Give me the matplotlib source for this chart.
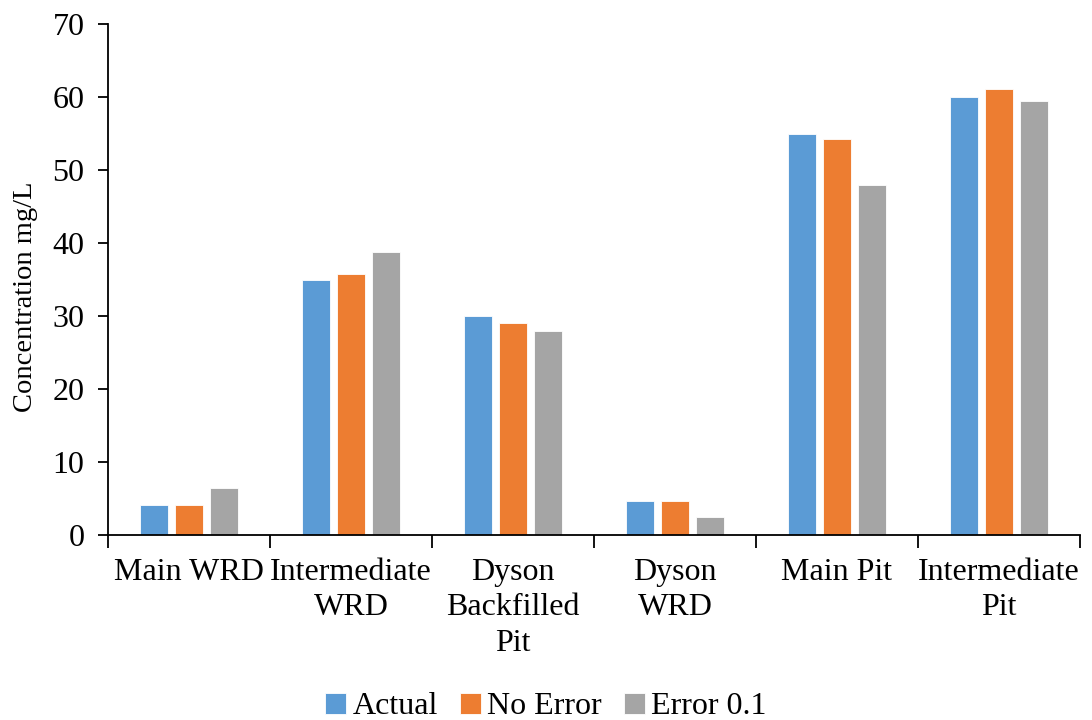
import matplotlib
matplotlib.use("Agg")
import matplotlib.pyplot as plt
import numpy as np

categories = ["Main WRD", "Intermediate\nWRD", "Dyson\nBackfilled\nPit", "Dyson\nWRD", "Main Pit", "Intermediate\nPit"]
actual = [4.1, 34.9, 30.0, 4.6, 55.0, 60.0]
no_error = [4.1, 35.8, 29.0, 4.6, 54.3, 61.1]
error_01 = [6.5, 38.8, 28.0, 2.5, 47.9, 59.5]
series_names = ["Actual", "No Error", "Error 0.1"]
colors = ["#5B9BD5", "#ED7D31", "#A5A5A5"]
y_ticks = [0, 10, 20, 30, 40, 50, 60, 70]

plt.rcParams['font.family'] = ['Liberation Serif', 'DejaVu Serif']
FS = 23

fig = plt.figure(figsize=(10.92, 7.2), dpi=100)
ax = fig.add_axes([108/1092, 1 - 535/720, (1080-108)/1092, (535-24)/720])

x = np.arange(len(categories))
w = 0.175
off = 0.215
for i, (vals, name, c) in enumerate(zip([actual, no_error, error_01], series_names, colors)):
    ax.bar(x + (i - 1) * off, vals, width=w, color=c, label=name,
           edgecolor='white', linewidth=0.6, zorder=2)

ax.set_xlim(-0.5, len(categories) - 0.5)
ax.set_ylim(0, 70)
ax.set_yticks(y_ticks)
ax.tick_params(axis='y', labelsize=FS, length=7, width=1.3, direction='out', pad=10)
ax.set_xticks(np.arange(len(categories) + 1) - 0.5)
ax.set_xticklabels([])
ax.tick_params(axis='x', length=9, width=1.3, direction='out')
for xi, lab in zip(x, categories):
    ax.text(xi, -3.1, lab, ha='center', va='top', fontsize=FS, linespacing=1.3)

for s in ['top', 'right']:
    ax.spines[s].set_visible(False)
for s in ['left', 'bottom']:
    ax.spines[s].set_linewidth(1.3)
    ax.spines[s].set_color('black')

ax.set_ylabel("Concentration mg/L", fontsize=20.5)
ax.yaxis.set_label_coords(-0.072, 0.466)

leg = fig.legend(loc='center', bbox_to_anchor=(0.5, 1 - 707/720), ncol=3, frameon=False,
                 fontsize=FS, handlelength=0.65, handleheight=0.65, handletextpad=0.2,
                 columnspacing=0.7)

fig.savefig("out.png", dpi=100)
